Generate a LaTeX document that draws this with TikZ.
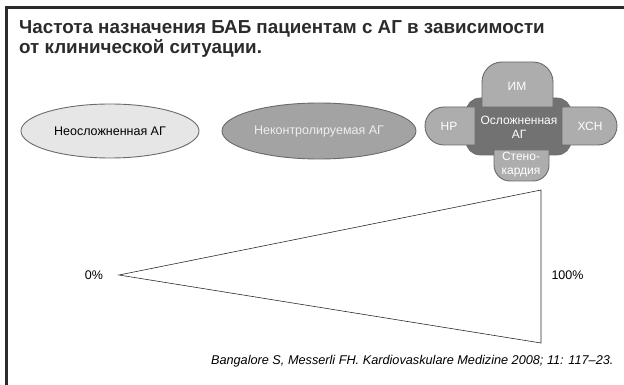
\documentclass[tikz,border=0pt]{standalone}
\usepackage{fontspec}
\setmainfont{Liberation Sans}
\usepackage{tikz}
\usetikzlibrary{shapes.geometric, positioning}

\definecolor{framegray}{HTML}{2B2B2B}
\definecolor{linegray}{HTML}{6A6A6A}
\definecolor{lightfill}{HTML}{E6E6E6}
\definecolor{midfill}{HTML}{A3A3A3}
\definecolor{piecegray}{HTML}{ADADAD}
\definecolor{coregray}{HTML}{727272}
\definecolor{paletext}{HTML}{EEEEEE}

\begin{document}
\begin{tikzpicture}[
                x=1pt, y=-1pt,
                font=\fontsize{12.5}{14}\selectfont,
                oval/.style={ellipse, draw=linegray, line width=0.9pt, inner sep=0pt},
                piece/.style={draw=linegray, fill=piecegray, line width=0.9pt},
                txt/.style={align=center, text=white, inner sep=0pt, font=\fontsize{12}{14}\selectfont},
                tri/.style={draw=framegray, line width=0.6pt}
            ]
            \useasboundingbox (0,0) rectangle (624,385);
            % frame
            \draw [framegray, line width=3pt] (624,8) -- (6,8) -- (6,385);
            \node (title) [anchor=north west, align=left, inner sep=0pt, text=framegray, font=\bfseries\fontsize{18.8}{20.5}\selectfont] at (19,20) {Частота назначения БАБ пациентам с АГ в зависимости\\от клинической ситуации.};

            \node (uncompl) [oval, fill=lightfill, minimum width=178pt, minimum height=54pt] at (110,131) {Неосложненная АГ};
            \node (uncontr) [oval, fill=midfill, text=paletext, minimum width=194pt, minimum height=56pt] at (319,131) {Неконтролируемая АГ};

            % complicated cluster
            \draw [fill=coregray, draw=linegray, line width=0.6pt, rounded corners=14pt] (466,98) rectangle (571,155);
            \draw [piece] (482,107) [rounded corners=20pt] -- (482,62) -- (553,62) [sharp corners] -- (553,107) -- cycle;
            \draw [piece] (475,107) [rounded corners=19pt] -- (425,107) -- (425,145) [sharp corners] -- (475,145) -- cycle;
            \draw [piece] (562,107) [rounded corners=19pt] -- (617,107) -- (617,145) [sharp corners] -- (562,145) -- cycle;
            \draw [piece] (494,150) [rounded corners=16pt] -- (494,181) -- (549,181) [sharp corners] -- (549,150) -- cycle;
            \node (im) [txt] at (517,86) {ИМ};
            \node (hp) [txt] at (449,126) {НР};
            \node (compl) [txt] at (519,127) {Осложненная\\АГ};
            \node (xsn) [txt] at (590,126) {ХСН};
            \node (angina) [txt] at (521,165) {Стено-\\кардия};

            % triangle
            \node (zero) at (94,275) {0\%};
            \coordinate (tip) at (119,275);
            \coordinate (top) at (541,190);
            \coordinate (bot) at (541,343);
            \node (full) [right=7pt of top |- zero] {100\%};
            \draw [tri] (tip) -- (top) -- (bot) -- cycle;

            \node (cite) [anchor=base east, font=\itshape\fontsize{12.7}{14}\selectfont] at (617,364) {Bangalore S, Messerli FH. Kardiovaskulare Medizine 2008; 11: 117–23.};
            \end{tikzpicture}
\end{document}
